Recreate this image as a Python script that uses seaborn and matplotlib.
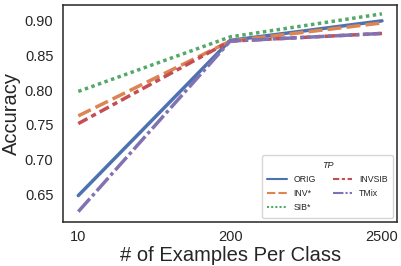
import matplotlib
matplotlib.use("Agg")
from matplotlib import pyplot as plt
import numpy as np
import pandas
import seaborn as sns

examples = ["10", "200", "2500"]
methods = ["ORIG", "INV*", "SIB*", "INVSIB", "TMix"]
acc_orig = [0.649, 0.871, 0.899]
acc_inv = [0.763, 0.870, 0.896]
acc_sib = [0.798, 0.876, 0.909]
acc_invsib = [0.752, 0.870, 0.881]
acc_tmix = [0.626, 0.870, 0.881]

rows = []
for name, vals in zip(methods, [acc_orig, acc_inv, acc_sib, acc_invsib, acc_tmix]):
    for ex, v in zip(examples, vals):
        rows.append({"# of Examples Per Class": ex, "Accuracy": v, "TP": name})
df = pandas.DataFrame(rows)

sns.set_theme(style="white", palette="deep")
plt.rcParams['font.family'] = ['Liberation Sans', 'DejaVu Sans']
fig, ax = plt.subplots(figsize=(4.02, 2.66), dpi=100)
g = sns.lineplot(data=df, x="# of Examples Per Class", y="Accuracy", hue="TP", style="TP",
                 ax=ax, linewidth=2.5)
for s in ax.spines.values():
    s.set_color("#262626")
    s.set_linewidth(1.1)
ax.set_ylim(0.611, 0.9216)
ax.set_yticks([0.65, 0.70, 0.75, 0.80, 0.85, 0.90])
ax.tick_params(labelsize=10.5, colors="#262626", length=0)
ax.tick_params(axis="x", pad=6)
ax.tick_params(axis="y", pad=7)
ax.set_xlabel("# of Examples Per Class", fontsize=14.5, color="#262626", labelpad=1)
ax.set_ylabel("Accuracy", fontsize=14.5, color="#262626", labelpad=3)
leg = ax.legend(title="TP", ncol=2, loc="lower right", fontsize=6.3, title_fontsize=6.5,
                handlelength=2.2, columnspacing=1.9, labelspacing=0.6, frameon=True, borderpad=0.6)
leg.get_title().set_fontstyle("italic")
for line in leg.get_lines():
    line.set_linewidth(1.5)
fig.subplots_adjust(left=0.157, right=0.988, top=0.981, bottom=0.165)
fig.savefig("out.png", dpi=100)
